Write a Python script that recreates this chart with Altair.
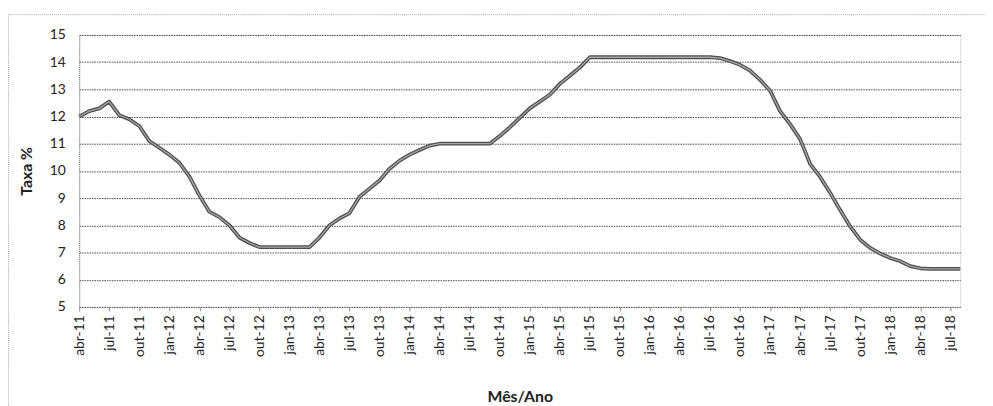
import altair as alt
import pandas as pd

meses = ["jan", "fev", "mar", "abr", "mai", "jun", "jul", "ago", "set", "out", "nov", "dez"]

# months abr-11 .. ago-18
labels = []
for ano in range(11, 19):
    for m in range(12):
        labels.append(f"{meses[m]}-{ano}")
start = labels.index("abr-11")
end = labels.index("ago-18")
mes_ano = labels[start:end + 1]

taxa = [
    12.0, 12.2, 12.3, 12.55, 12.05, 11.9, 11.65, 11.1, 10.85,          # abr-11..dez-11
    10.6, 10.3, 9.8, 9.1, 8.5, 8.3, 8.0, 7.55, 7.35, 7.2, 7.2, 7.2,     # jan-12..dez-12
    7.2, 7.2, 7.2, 7.55, 8.0, 8.25, 8.45, 9.05, 9.35, 9.65, 10.08, 10.38,  # 2013
    10.6, 10.77, 10.93, 11.0, 11.0, 11.0, 11.0, 11.0, 11.0, 11.28, 11.6, 11.95,  # 2014
    12.3, 12.55, 12.8, 13.2, 13.5, 13.8, 14.18, 14.18, 14.18, 14.18, 14.18, 14.18,  # 2015
    14.18, 14.18, 14.18, 14.18, 14.18, 14.18, 14.18, 14.15, 14.04, 13.9, 13.69, 13.35,  # 2016
    12.95, 12.2, 11.72, 11.17, 10.26, 9.78, 9.2, 8.56, 7.96, 7.47, 7.17, 6.96,  # 2017
    6.8, 6.68, 6.5, 6.42, 6.4, 6.4, 6.4, 6.4,  # jan-18..ago-18
]

df = pd.DataFrame({"mes": mes_ano, "taxa": taxa})
tick_labels = mes_ano[::3]

FONT = "Lato"

x = alt.X(
    "mes:O",
    sort=None,
    scale=alt.Scale(type="point", padding=0),
    axis=alt.Axis(
        title="Mês/Ano",
        values=tick_labels,
        labelAngle=270,
        labelFontSize=14,
        labelFont=FONT,
        labelColor="#222",
        labelPadding=4,
        tickSize=4,
        tickColor="#888",
        domain=False,
        grid=False,
        titleFont=FONT,
        titleFontSize=16,
        titleFontWeight="bold",
        titleColor="#222",
        titlePadding=32,
    ),
)
y = alt.Y(
    "taxa:Q",
    scale=alt.Scale(domain=[5, 15], nice=False, zero=False),
    axis=alt.Axis(
        title="Taxa %",
        values=list(range(5, 16)),
        ticks=False,
        labelPadding=14,
        labelFontSize=14,
        labelFont=FONT,
        labelColor="#222",
        domain=True,
        domainColor="#777",
        domainDash=[1, 1],
        grid=True,
        gridColor="#4a4a4a",
        gridDash=[1.5, 1],
        gridWidth=1,
        titleFont=FONT,
        titleFontSize=16,
        titleFontWeight="bold",
        titleColor="#222",
        titlePadding=15,
    ),
)

base = alt.Chart(df)
outer = base.mark_line(color="#4d4d4d", strokeWidth=3.8, strokeJoin="round").encode(x=x, y=y)
inner = base.mark_line(color="#a8a8a8", strokeWidth=1.3, strokeJoin="round").encode(x=x, y=y)

border = alt.Chart(pd.DataFrame({"a": [0]})).mark_rect(
    fill=None, filled=False, stroke="#aaa", strokeDash=[1, 1], strokeWidth=1
).encode(
    x=alt.value(-71.5), x2=alt.value(930), y=alt.value(-20.5), y2=alt.value(400)
)

chart = alt.layer(border, outer, inner).properties(
    width=891,
    height=275,
    autosize=alt.AutoSizeParams(type="none"),
    padding={"left": 72, "top": 25, "right": 25, "bottom": 100},
).configure_view(stroke=None).configure(background="white")

chart.save("out.html", embed_options={"renderer": "svg", "actions": False})
